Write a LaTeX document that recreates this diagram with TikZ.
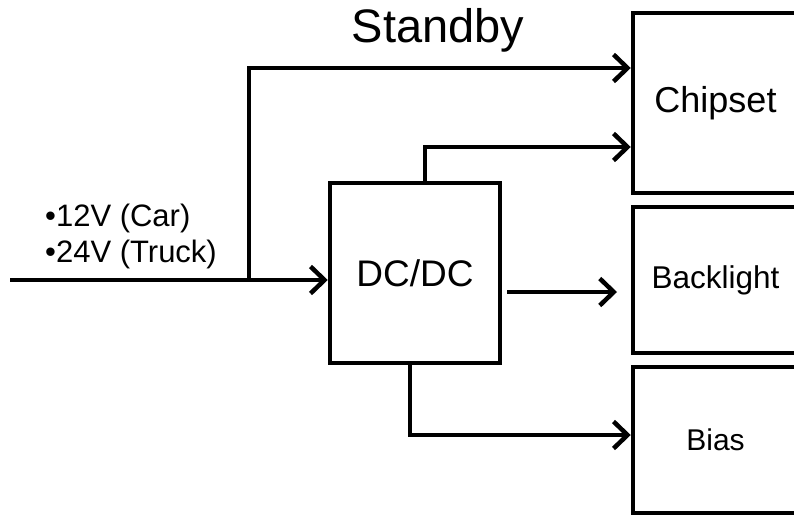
\documentclass[tikz,border=0pt]{standalone}
\usepackage{fontspec}
\setmainfont{Liberation Sans}
\usetikzlibrary{arrows.meta,calc}
\tikzset{
  blk/.style={draw, line width=4.5pt, rectangle, inner sep=0pt, align=center},
  conn/.style={line width=4.5pt, line join=miter},
  arr/.style={conn, -{Straight Barb[length=14pt,width=27pt,line width=4.5pt]}},
  fsz/.style={font=\fontsize{#1}{#1}\selectfont}
}
\begin{document}
\begin{tikzpicture}[x=1pt,y=-1pt]
\useasboundingbox (0,0) rectangle (794,516);
\clip (0,0) rectangle (794,516);
% boxes
\node[blk, minimum width=165pt, minimum height=180pt, fsz=36] (chip) at (715.5,103) {Chipset};
\node[blk, minimum width=165pt, minimum height=146pt, fsz=31.5] (back) at (715.5,280) {Backlight};
\node[blk, minimum width=165pt, minimum height=146pt, fsz=30] (bias) at (715.5,440) {Bias};
\node[blk, minimum width=170pt, minimum height=180pt, fsz=37] (dc) at (415,273) {DC/DC};
% labels
\node[fsz=47] (stby) at (438,30) {Standby};
\node[anchor=west, align=left, inner sep=0pt, font=\fontsize{31}{36}\selectfont] (vin) at (45,236) {•12V (Car)\\•24V (Truck)};
% coordinates
\coordinate (in) at (10,280);
\coordinate (br) at (249,280);
\coordinate (stop) at (249,68);
\coordinate (dctop) at (425,183);
\coordinate (up) at (425,147);
\coordinate (dcbot) at (410,363);
\coordinate (down) at (410,435);
\coordinate (outs) at (507,292);
\coordinate (oute) at (617,292);
% connectors
\draw[arr] (in) -- (in -| dc.west);
\draw[arr] (br) -- (stop) -- (stop -| chip.west);
\draw[arr] (dctop) -- (up) -- (up -| chip.west);
\draw[arr] (outs) -- (oute);
\draw[arr] (dcbot) -- (down) -- (down -| bias.west);
\end{tikzpicture}
\end{document}
